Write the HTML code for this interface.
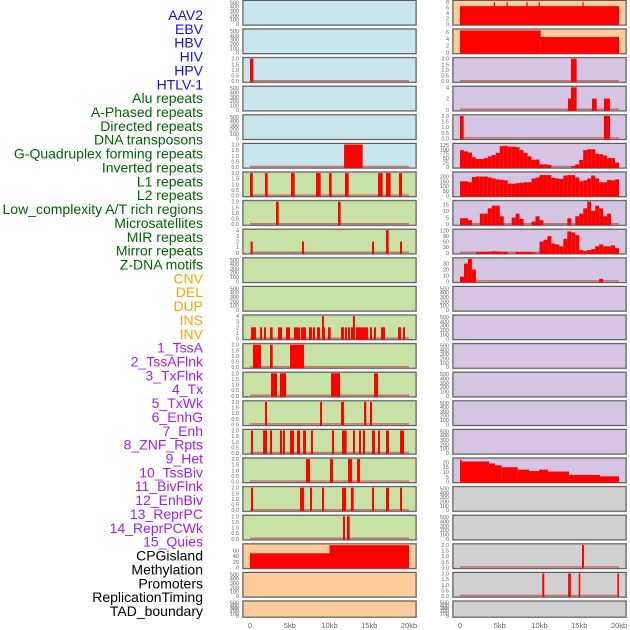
<!DOCTYPE html>
<html><head><meta charset="utf-8">
<style>
html,body{margin:0;padding:0;background:#fff;}
svg{display:block;font-family:"Liberation Sans",sans-serif;}
</style></head>
<body>
<svg id="chart" width="630" height="630" viewBox="0 0 630 630" xmlns="http://www.w3.org/2000/svg"></svg>
<script>
// ---------- labels ----------
const trackLabels = ["AAV2","EBV","HBV","HIV","HPV","HTLV-1","Alu repeats","A-Phased repeats","Directed repeats","DNA transposons","G-Quadruplex forming repeats","Inverted repeats","L1 repeats","L2 repeats","Low_complexity A/T rich regions","Microsatellites","MIR repeats","Mirror repeats","Z-DNA motifs","CNV","DEL","DUP","INS","INV","1_TssA","2_TssAFlnk","3_TxFlnk","4_Tx","5_TxWk","6_EnhG","7_Enh","8_ZNF_Rpts","9_Het","10_TssBiv","11_BivFlnk","12_EnhBiv","13_ReprPC","14_ReprPCWk","15_Quies","CPGisland","Methylation","Promoters","ReplicationTiming","TAD_boundary"];
const labelGroups = ["v","v","v","v","v","v","r","r","r","r","r","r","r","r","r","r","r","r","r","s","s","s","s","s","c","c","c","c","c","c","c","c","c","c","c","c","c","c","c","o","o","o","o","o"];
const xTickLabels = ["0","5kb","10kb","15kb","20kb"];
const xTickValues = [0,5,10,15,20];

// ---------- left column data: [startKb, endKb, value] ----------
const hivLeft = [[0,0.42,2]];
const gquadLeft = [[11.83,14.17,2]];
const l1Left = [[0,0.35,2],[1.89,2.22,2],[5.16,5.62,2],[8.3,8.89,2],[9.94,10.27,2],[11.95,12.41,2],[16.1,16.69,2],[17.1,17.69,2],[18.74,19.12,2]];
const l2Left = [[3.27,3.61,2],[11.07,11.4,2]];
const lowLeft = [[0.08,0.34,2],[6.54,6.79,2],[15.35,15.6,2],[17.1,17.44,4],[18.87,19.12,2]];
const insLeft = [[0.13,0.75,2],[1.26,1.51,2],[1.76,2.01,2],[2.52,2.85,2],[3.52,4.03,2],[4.53,5.03,2],[5.53,6.29,2],[6.42,7.04,2],[7.42,7.8,2],[7.92,8.18,2],[8.43,8.81,2],[9.05,9.3,4],[9.18,9.43,2],[9.81,10.15,2],[11.45,11.82,2],[11.95,12.2,2],[12.33,12.58,2],[12.7,12.96,2],[12.95,13.2,4],[13.33,14.84,2],[15.09,15.35,2],[15.6,15.85,2],[16.48,16.98,2],[18.62,18.99,2],[19.25,19.5,2]];
const tssaLeft = [[0.38,1.38,2],[2.52,2.85,2],[5.03,6.79,2]];
const tssaflnkLeft = [[2.64,3.4,2],[3.77,4.53,2],[10.19,11.32,2],[15.6,16.1,2]];
const txflnkLeft = [[1.89,2.14,2],[8.81,9.06,2],[11.45,11.82,2],[14.34,14.63,2],[15.09,15.35,2]];
const txLeft = [[0.13,0.38,2],[1.64,2.14,2],[2.52,2.77,2],[3.77,4.03,2],[4.15,4.4,2],[5.03,5.53,2],[5.91,6.29,2],[6.67,7.04,2],[7.67,7.92,2],[10.31,10.57,2],[11.57,12.16,2],[12.96,13.21,2],[13.71,13.96,2],[14.21,14.47,2],[15.35,15.72,2],[16.1,16.35,2],[17.11,17.48,2],[18.87,19.37,2]];
const txwkLeft = [[7.04,7.55,2],[10.06,10.44,2],[12.33,12.83,2],[13.46,13.84,2]];
const enhgLeft = [[0.13,0.38,2],[6.29,6.79,2],[7.55,7.8,2],[9.06,9.31,2],[11.57,12.08,2],[12.7,13.04,2],[15.35,15.6,2],[17.11,17.48,2],[18.87,19.12,2]];
const enhLeft = [[11.7,11.95,2],[12.2,12.54,2]];
const cpgLeft = [[0,10,50],[10,20,79]];

// ---------- right column data ----------
const aav2Right = [[0,20,6.5],[4.25,4.4,8],[5.85,6.0,8],[8.35,8.5,8],[9.88,10.03,8],[15.4,15.55,8]];
const ebvRight = [[0,10.15,6.4],[10.15,20,4.5]];
const hivRight = [[13.96,14.67,2]];
const hpvRight = [[13.58,13.96,2],[13.96,14.67,4],[16.6,17.19,2],[18.1,18.87,2]];
const htlvRight = [[0,0.46,2],[18.1,18.87,2]];
const tssbivRight = [[0,0.2,23],[0.2,3.65,21],[3.65,4.4,19],[4.4,5.24,17],[5.24,7.25,15],[7.25,8.68,12.5],[8.68,9.94,11],[9.94,11.07,12.5],[11.07,13.71,10.5],[13.71,17.61,7],[17.61,20,5.5]];
const cpgRight = [[15.35,15.6,2]];
const methRight = [[10.35,10.6,2],[13.6,13.95,2],[14.93,15.13,2],[19.8,20,2]];
// binned profiles, 0.5 kb per bin (40 bins)
const gquadBins = [95,88,82,55,45,45,50,60,68,80,118,120,115,115,112,95,80,60,40,42,15,15,12,0,0,0,0,0,5,15,40,95,100,100,75,72,65,50,50,25];
const l1Bins = [150,150,140,195,200,200,200,190,180,170,165,160,125,125,130,135,140,140,180,190,215,215,215,185,180,175,210,215,215,190,150,160,180,210,180,140,140,165,160,170,];
const lowBins = [4.5,4.5,3,0,0,8,8,12,14,14,6,0,0,5,8,4,0,0,2,6,3,0,0,0,0,0,0,4.5,0,6,8,12,17,10,14,12,6,8,0,0];
const mirBins = [0,0,0,0,3,5,6,7,8,7,6,5,0,0,4,4,4,4,2,0,60,70,90,50,45,35,75,115,110,95,15,10,15,20,35,45,35,35,40,25];
const microBins = [8,30,38,20,0,0,0,0,0,0,0,0,0,0,0,0,0,0,0,0,0,0,0,0,0,0,0,0,0,0,0,0,0,0,0,4,0,0,0,0];

// ---------- y tick sets ----------
const ticksEmpty = ["0","100","200","300","400","500"];
const ticksBinary = ["0.0","0.5","1.0","1.5","2.0"];

function binsToIntervals(b){return b.map((v,i)=>[i*0.5,i*0.5+0.5,v]);}

const BLUE="#c8e4ec",GREEN="#c8e2a5",ORANGE="#fecc9b",PURPLE="#d5c5e3",GRAY="#d0d0d0";
// panels: col, row, bg, ymax, tick labels, tick values, data
const panels = [
 {c:0,r:0,bg:BLUE,n:"aav2"},{c:0,r:1,bg:BLUE,n:"ebv"},
 {c:0,r:2,bg:BLUE,n:"hiv",d:hivLeft,ym:2,t:ticksBinary},
 {c:0,r:3,bg:BLUE,n:"hpv"},{c:0,r:4,bg:BLUE,n:"htlv"},
 {c:0,r:5,bg:BLUE,n:"gquad",d:gquadLeft,ym:2,t:ticksBinary},
 {c:0,r:6,bg:GREEN,n:"l1",d:l1Left,ym:2,t:ticksBinary},
 {c:0,r:7,bg:GREEN,n:"l2",d:l2Left,ym:2,t:ticksBinary},
 {c:0,r:8,bg:GREEN,n:"lowcomplex",d:lowLeft,ym:4,t:["0","1","2","3","4"]},
 {c:0,r:9,bg:GREEN,n:"zdna"},{c:0,r:10,bg:GREEN,n:"cnv"},
 {c:0,r:11,bg:GREEN,n:"ins",d:insLeft,ym:4,t:["0","1","2","3","4"]},
 {c:0,r:12,bg:GREEN,n:"tssa",d:tssaLeft,ym:2,t:ticksBinary},
 {c:0,r:13,bg:GREEN,n:"tssaflnk",d:tssaflnkLeft,ym:2,t:ticksBinary},
 {c:0,r:14,bg:GREEN,n:"txflnk",d:txflnkLeft,ym:2,t:ticksBinary},
 {c:0,r:15,bg:GREEN,n:"tx",d:txLeft,ym:2,t:ticksBinary},
 {c:0,r:16,bg:GREEN,n:"txwk",d:txwkLeft,ym:2,t:ticksBinary},
 {c:0,r:17,bg:GREEN,n:"enhg",d:enhgLeft,ym:2,t:ticksBinary},
 {c:0,r:18,bg:GREEN,n:"enh",d:enhLeft,ym:2,t:ticksBinary},
 {c:0,r:19,bg:ORANGE,n:"cpg",d:cpgLeft,ym:80,t:["0","20","40","60"],tv:[0,20,40,60]},
 {c:0,r:20,bg:ORANGE,n:"promoters"},{c:0,r:21,bg:ORANGE,n:"tad"},
 {c:1,r:0,bg:ORANGE,n:"aav2",d:aav2Right,ym:8.2,t:["0","2","4","6","8"],tv:[0,2,4,6,8]},
 {c:1,r:1,bg:ORANGE,n:"ebv",d:ebvRight,ym:6.5,t:["0","2","4","6"],tv:[0,2,4,6]},
 {c:1,r:2,bg:PURPLE,n:"hiv",d:hivRight,ym:2,t:ticksBinary},
 {c:1,r:3,bg:PURPLE,n:"hpv",d:hpvRight,ym:4,t:["0","2","4"],tv:[0,2,4]},
 {c:1,r:4,bg:PURPLE,n:"htlv",d:htlvRight,ym:2,t:ticksBinary},
 {c:1,r:5,bg:PURPLE,n:"gquad",d:binsToIntervals(gquadBins),ym:127,t:["0","25","50","75","100","125"],tv:[0,25,50,75,100,125]},
 {c:1,r:6,bg:PURPLE,n:"l1",d:binsToIntervals(l1Bins),ym:236,t:["0","50","100","150","200"],tv:[0,50,100,150,200]},
 {c:1,r:7,bg:PURPLE,n:"lowcomplex",d:binsToIntervals(lowBins),ym:17,t:["0","5","10","15"],tv:[0,5,10,15]},
 {c:1,r:8,bg:PURPLE,n:"mir",d:binsToIntervals(mirBins),ym:121,t:["0","30","60","90","120"],tv:[0,30,60,90,120]},
 {c:1,r:9,bg:PURPLE,n:"micro",d:binsToIntervals(microBins),ym:38,t:["0","10","20","30"],tv:[0,10,20,30]},
 {c:1,r:10,bg:PURPLE,n:"cnv"},{c:1,r:11,bg:PURPLE,n:"ins"},{c:1,r:12,bg:PURPLE,n:"tssa"},
 {c:1,r:13,bg:PURPLE,n:"tssaflnk"},{c:1,r:14,bg:PURPLE,n:"txflnk"},{c:1,r:15,bg:PURPLE,n:"tx"},
 {c:1,r:16,bg:PURPLE,n:"tssbiv",d:tssbivRight,ym:23.5,t:["0","5","10","15","20"],tv:[0,5,10,15,20]},
 {c:1,r:17,bg:GRAY,n:"enhg"},{c:1,r:18,bg:GRAY,n:"enh"},
 {c:1,r:19,bg:GRAY,n:"cpg",d:cpgRight,ym:2,t:ticksBinary},
 {c:1,r:20,bg:GRAY,n:"methylation",d:methRight,ym:2,t:ticksBinary},
 {c:1,r:21,bg:GRAY,n:"tad"}
];

const NS="http://www.w3.org/2000/svg";
const svg=document.getElementById("chart");
function mk(tag,attrs,parent){const e=document.createElementNS(NS,tag);for(const k in attrs)e.setAttribute(k,attrs[k]);(parent||svg).appendChild(e);return e;}

const colX=[243,453], colW=173;
function xScale(c,kb){return (c===0?250:460)+kb*7.95;}
function panelTop(r){return 0.5+28.6*r;}
function panelH(r){return r===21?16:24.5;}

// labels
const groupColor={v:"#1010ee",r:"#006400",s:"#ffa500",c:"#a020f0",o:"#000000"};
trackLabels.forEach((t,i)=>{
  const e=mk("text",{x:203,y:15+13.86*i+5,"text-anchor":"end","font-size":"14",fill:groupColor[labelGroups[i]]});
  e.textContent=t;
  
  
});

panels.forEach(p=>{
  const T=panelTop(p.r),H=panelH(p.r),X=colX[p.c];
  const g=mk("g",{});
  
  
  mk("rect",{x:X-0.5,y:T-0.5,width:colW+1,height:H+1,fill:"none",stroke:"#b5b5b5","stroke-width":1},g);
  mk("rect",{x:X,y:T,width:colW,height:H,fill:p.bg,stroke:"#5c5c5c","stroke-width":1},g);
  const ym=p.ym||520;
  const yS=v=>T+H-1-v/ym*(H-2);
  const tl=p.t||ticksEmpty;
  const tv=p.tv||(p.t?tl.map(s=>parseFloat(s)):[0,100,200,300,400,500]);
  const tx=X-4;
  tl.forEach((s,i)=>{
    const e=mk("text",{x:tx,y:yS(tv[i])+2,"text-anchor":"end","font-size":"5.5",fill:"#666"},g);
    e.textContent=s;
    
    
  });
  if(p.d){
    const bl=mk("line",{x1:xScale(p.c,0),x2:xScale(p.c,20),y1:yS(0)-0.5,y2:yS(0)-0.5,stroke:"#c85a5a","stroke-width":1.5,"stroke-opacity":0.8},g);
    
    
    p.d.forEach(d=>{
      const x1=xScale(p.c,d[0]),x2=xScale(p.c,d[1]);
      const y=yS(d[2]);
      if(d[2]<=0)return;
      const b=mk("rect",{x:x1,y:y,width:Math.max(1,x2-x1),height:yS(0)-y+1,fill:"#ff0000"},g);
      
      
    });
  }
});

// x-axis labels
[0,1].forEach(c=>{
  xTickValues.forEach((v,i)=>{
    const e=mk("text",{x:xScale(c,v),y:628,"text-anchor":"middle","font-size":"7.5",fill:"#666"});
    e.textContent=xTickLabels[i];
    
    
  });
});
</script>
</body></html>
